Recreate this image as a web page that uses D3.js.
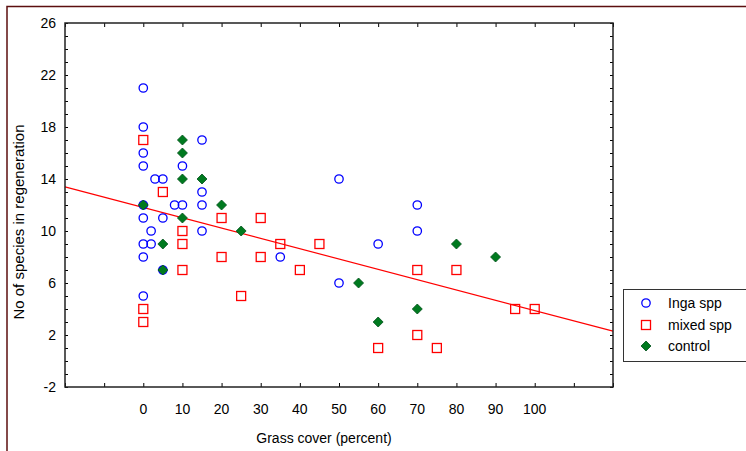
<!DOCTYPE html>
<html>
<head>
<meta charset="utf-8">
<script src="https://cdn.jsdelivr.net/npm/d3@7"></script>
<style>
  body { margin: 0; background: #fff; }
  text { font-family: Arial, "Liberation Sans", sans-serif; fill: #000; }
</style>
</head>
<body>
<script>
var w = 746;
var h = 451;

// data: [grass cover %, no. of species]
var ingaSpp = [
  [0,21],[0,18],[0,16],[0,15],[0,12],[0,11],[0,9],[0,8],[0,5],
  [2,10],[2,9],[3,14],[5,14],[5,11],[5,7],[8,12],[10,12],[10,15],
  [15,17],[15,13],[15,12],[15,10],[35,8],[50,14],[50,6],[60,9],[70,12],[70,10]
];
var mixedSpp = [
  [0,17],[0,4],[0,3],[5,13],[10,10],[10,9],[10,7],[20,11],[20,8],[25,5],
  [30,11],[30,8],[35,9],[40,7],[45,9],[60,1],[70,7],[70,2],[75,1],[80,7],[95,4],[100,4]
];
var control = [
  [0,12],[5,9],[5,7],[10,17],[10,16],[10,14],[10,11],[15,14],[20,12],
  [25,10],[55,6],[60,3],[70,4],[80,9],[90,8]
];

// fitted line: y = intercept + slope * x
var fitIntercept = 11.81;
var fitSlope = -0.0793;

var xTicks = d3.range(-20, 121, 10);
var xLabels = [0,10,20,30,40,50,60,70,80,90,100];
var yTicks = d3.range(-2, 27, 1);
var yLabels = [-2,2,6,10,14,18,22,26];

var legendNames = ["Inga spp", "mixed spp", "control"];

var x = d3.scaleLinear().domain([-20, 120]).range([65, 613]);
var y = d3.scaleLinear().domain([-2, 26]).range([387, 23]);

var svg = d3.select("body")
            .append("svg")
            .attr("width", w)
            .attr("height", h);

//outer frame (only top and left are visible)
svg.append("path")
   .attr("d", "M7," + h + "V6.5H" + w)
   .attr("fill", "none")
   .attr("stroke", "#5c0f0f")
   .attr("stroke-width", 1.5);

//regression line
svg.append("line")
   .attr("x1", x(-20)).attr("y1", y(fitIntercept + fitSlope * -20))
   .attr("x2", x(120)).attr("y2", y(fitIntercept + fitSlope * 120))
   .attr("stroke", "#ff0000")
   .attr("stroke-width", 1.2);

//axes with inward ticks
function tickAxis(axis, g) {
  g.call(axis);
  g.select(".domain").remove();
  g.selectAll("line").attr("stroke", "#000");
}
tickAxis(d3.axisBottom(x).tickValues(xTicks).tickSize(-4).tickFormat(""),
  svg.append("g").attr("transform", "translate(0,387)"));
tickAxis(d3.axisTop(x).tickValues(xTicks).tickSize(-4).tickFormat(""),
  svg.append("g").attr("transform", "translate(0,23)"));
tickAxis(d3.axisLeft(y).tickValues(yTicks).tickSize(-3).tickFormat(""),
  svg.append("g").attr("transform", "translate(65,0)"));
tickAxis(d3.axisRight(y).tickValues(yTicks).tickSize(-3).tickFormat(""),
  svg.append("g").attr("transform", "translate(613,0)"));

svg.append("rect")
   .attr("x", 65).attr("y", 23)
   .attr("width", 548).attr("height", 364)
   .attr("fill", "none")
   .attr("stroke", "#222")
   .attr("stroke-width", 1.5);

//tick labels
svg.selectAll(".ylab")
   .data(yLabels)
   .enter()
   .append("text")
   .attr("x", 56)
   .attr("y", function(d) { return y(d) + 5; })
   .attr("text-anchor", "end")
   .style("font-size", "14px")
   .text(function(d) { return d; });

svg.selectAll(".xlab")
   .data(xLabels)
   .enter()
   .append("text")
   .attr("x", function(d) { return x(d); })
   .attr("y", 414)
   .attr("text-anchor", "middle")
   .style("font-size", "14px")
   .text(function(d) { return d; });

svg.append("text")
   .attr("x", 324).attr("y", 443)
   .attr("text-anchor", "middle")
   .style("font-size", "14px")
   .text("Grass cover (percent)");

svg.append("text")
   .attr("transform", "translate(24,222) rotate(-90)")
   .attr("text-anchor", "middle")
   .style("font-size", "15px")
   .text("No of species in regeneration");

//markers
function drawCircles(g, data) {
  g.selectAll("circle")
   .data(data)
   .enter()
   .append("circle")
   .attr("cx", function(d) { return x(d[0]); })
   .attr("cy", function(d) { return y(d[1]); })
   .attr("r", 4.2)
   .attr("fill", "none")
   .attr("stroke", "#0000ff")
   .attr("stroke-width", 1.3);
}
function drawSquares(g, data) {
  g.selectAll("rect")
   .data(data)
   .enter()
   .append("rect")
   .attr("x", function(d) { return x(d[0]) - 4.5; })
   .attr("y", function(d) { return y(d[1]) - 4.5; })
   .attr("width", 9).attr("height", 9)
   .attr("fill", "none")
   .attr("stroke", "#ff0000")
   .attr("stroke-width", 1.3);
}
var diamond = "M0,-5L5,0L0,5L-5,0Z";
function drawDiamonds(g, data) {
  g.selectAll("path")
   .data(data)
   .enter()
   .append("path")
   .attr("transform", function(d) { return "translate(" + x(d[0]) + "," + y(d[1]) + ")"; })
   .attr("d", diamond)
   .attr("fill", "#007a1f")
   .attr("stroke", "#00501a")
   .attr("stroke-width", 0.8);
}

drawCircles(svg.append("g"), ingaSpp);
drawSquares(svg.append("g"), mixedSpp);
drawDiamonds(svg.append("g"), control);

//legend
var legend = svg.append("g");
legend.append("rect")
   .attr("x", 623.5).attr("y", 289.5)
   .attr("width", 130).attr("height", 72)
   .attr("fill", "#fff")
   .attr("stroke", "#333")
   .attr("stroke-width", 1);

drawCircles(legend.append("g").attr("transform", "translate(" + (646 - x(0)) + "," + (303 - y(0)) + ")"), [[0,0]]);
drawSquares(legend.append("g").attr("transform", "translate(" + (646 - x(0)) + "," + (325 - y(0)) + ")"), [[0,0]]);
drawDiamonds(legend.append("g").attr("transform", "translate(" + (646 - x(0)) + "," + (346 - y(0)) + ")"), [[0,0]]);

legend.selectAll(".ltxt")
   .data(legendNames)
   .enter()
   .append("text")
   .attr("x", 668)
   .attr("y", function(d, i) { return [303, 325, 346][i] + 5; })
   .style("font-size", "14px")
   .text(function(d) { return d; });
</script>
</body>
</html>
